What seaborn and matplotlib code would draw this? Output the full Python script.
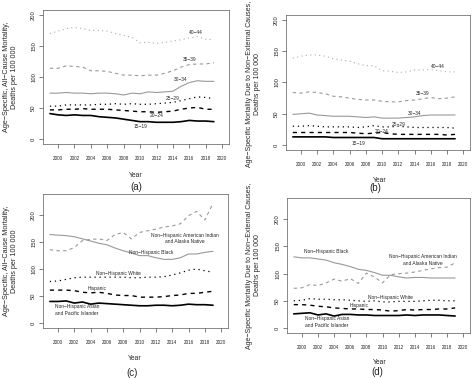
import numpy as np
import pandas as pd
import matplotlib
matplotlib.use("Agg")
import matplotlib.pyplot as plt
import seaborn as sns

sns.set_style("ticks")
plt.rcParams["font.family"] = ["Liberation Sans", "DejaVu Sans"]

years = list(range(1999, 2020))

# panel (a): all-cause mortality by age group
a_15_19 = [41, 39, 38, 39, 38, 38, 36, 35, 34, 32, 30, 28, 28, 27, 27, 27, 28, 30, 29, 29, 28]
a_20_24 = [47, 47, 48, 48, 49, 48, 48, 48, 47, 46, 45, 44, 44, 43, 44, 45, 48, 50, 51, 48, 48]
a_25_29 = [53, 53, 55, 55, 55, 55, 56, 56, 57, 56, 57, 56, 56, 57, 58, 59, 62, 65, 68, 67, 65]
a_30_34 = [74, 74, 75, 74, 74, 73, 74, 74, 73, 71, 74, 73, 76, 75, 76, 77, 85, 91, 94, 93, 93]
a_35_39 = [114, 114, 118, 117, 116, 110, 110, 109, 106, 103, 103, 102, 103, 103, 106, 110, 116, 120, 121, 121, 123]
a_40_44 = [170, 174, 178, 180, 178, 175, 175, 174, 170, 167, 164, 155, 156, 154, 156, 158, 160, 163, 165, 161, 160]

# panel (b): non-external causes by age group
b_15_19 = [13, 13, 13, 13, 13, 12, 12, 12, 12, 12, 12, 10, 10, 10, 10, 10, 10, 10, 10, 10, 10]
b_20_24 = [20, 20, 20, 20, 20, 20, 20, 20, 19, 18, 19, 20, 18, 17, 17, 17, 17, 17, 17, 16, 17]
b_25_29 = [30, 30, 31, 30, 29, 29, 29, 29, 28, 29, 31, 29, 29, 30, 29, 28, 28, 28, 28, 28, 27]
b_30_34 = [49, 50, 51, 48, 47, 46, 46, 46, 45, 44, 45, 43, 43, 43, 44, 45, 47, 48, 48, 48, 48]
b_35_39 = [84, 83, 85, 84, 82, 78, 77, 75, 73, 72, 72, 70, 69, 69, 71, 72, 74, 76, 74, 75, 77]
b_40_44 = [139, 142, 144, 144, 142, 138, 136, 134, 130, 127, 127, 119, 118, 116, 117, 120, 120, 121, 119, 117, 117]

# panel (c): all-cause mortality by race/ethnicity
c_asian = [40, 40, 41, 37, 39, 35, 37, 36, 35, 34, 33, 32, 32, 33, 33, 32, 33, 35, 34, 34, 33]
c_hisp = [61, 61, 61, 60, 57, 56, 57, 55, 52, 51, 51, 48, 48, 48, 49, 51, 52, 55, 55, 57, 59]
c_white = [77, 78, 81, 84, 85, 85, 85, 85, 85, 85, 84, 84, 85, 85, 86, 89, 93, 98, 100, 97, 94]
c_black = [164, 163, 162, 160, 156, 152, 148, 145, 139, 134, 130, 125, 125, 121, 118, 118, 121, 128, 128, 131, 133]
c_aian = [136, 134, 134, 140, 153, 155, 156, 153, 164, 168, 156, 168, 171, 174, 178, 180, 184, 199, 207, 191, 222]

# panel (d): non-external causes by race/ethnicity
d_asian = [26, 27, 28, 24, 26, 22, 25, 25, 24, 24, 23, 23, 23, 23, 24, 23, 24, 24, 24, 23, 22]
d_hisp = [43, 43, 42, 40, 39, 37, 36, 35, 35, 34, 34, 33, 31, 32, 34, 33, 34, 34, 35, 35, 37]
d_white = [50, 51, 54, 53, 53, 52, 52, 51, 50, 49, 50, 48, 48, 49, 49, 49, 50, 51, 51, 50, 50]
d_black = [131, 129, 129, 127, 125, 120, 117, 113, 108, 106, 102, 97, 97, 94, 92, 93, 93, 92, 92, 92, 92]
d_aian = [73, 74, 80, 78, 83, 90, 86, 91, 82, 101, 94, 83, 98, 100, 101, 103, 106, 109, 111, 112, 120]

MINUS = "\u2212"
age_labels = ["15" + MINUS + "19", "20" + MINUS + "24", "25" + MINUS + "29",
              "30" + MINUS + "34", "35" + MINUS + "39", "40" + MINUS + "44"]
race_labels = ["Non" + MINUS + "Hispanic Asian\nand Pacific Islander", "Hispanic",
               "Non" + MINUS + "Hispanic White", "Non" + MINUS + "Hispanic Black",
               "Non" + MINUS + "Hispanic American Indian\nand Alaska Native"]

# (color, linestyle, linewidth)
DOT = (0, (1, 3))
DASH = (0, (3, 3))
age_styles = [("black", "-", 1.2), ("black", DASH, 1.0), ("black", DOT, 0.9),
              ("0.6", "-", 0.8), ("0.6", DASH, 0.8), ("0.68", DOT, 0.8)]
race_styles = [("black", "-", 1.2), ("black", DASH, 1.0), ("black", DOT, 0.9),
               ("0.6", "-", 0.8), ("0.6", DASH, 0.8)]

W, H = 474, 378
fig = plt.figure(figsize=(W / 100, H / 100), dpi=100)


def px_axes(l, t, r, b):
    return fig.add_axes([l / W, 1 - b / H, (r - l) / W, (b - t) / H])


def style_axes(ax, ylim):
    ax.set_xlim(1998.16, 2020.84)
    ax.set_ylim(*ylim)
    ax.set_xticks(range(2000, 2021, 2))
    ax.set_yticks([0, 50, 100, 150, 200])
    ax.tick_params(axis="x", labelsize=3.3, length=3, width=0.5, pad=5.5, color="0.3")
    ax.tick_params(axis="y", labelsize=4.2, length=3, width=0.5, pad=2.0, color="0.3",
                   labelrotation=90)
    for lab in ax.get_yticklabels():
        lab.set_verticalalignment("center")
    for sp in ax.spines.values():
        sp.set_visible(True)
        sp.set_linewidth(0.5)
        sp.set_color("0.35")
    ax.set_xlabel("")
    ax.set_ylabel("")


def draw(ax, series, styles):
    for vals, (c, ls, lw) in zip(series, styles):
        df = pd.DataFrame({"year": years, "rate": vals})
        sns.lineplot(data=df, x="year", y="rate", ax=ax, color=c, linestyle=ls,
                     linewidth=lw)


ax_a = px_axes(43, 10, 229, 144)
draw(ax_a, [a_15_19, a_20_24, a_25_29, a_30_34, a_35_39, a_40_44], age_styles)
style_axes(ax_a, (-8, 208))
for lab, (x, y) in zip(age_labels, [(2010, 20), (2012, 37.5), (2014, 65),
                                     (2015, 96), (2016, 129), (2016.8, 171)]):
    ax_a.text(x, y, lab, fontsize=3.5, ha="center", va="center")

ax_b = px_axes(286, 15, 470, 150)
draw(ax_b, [b_15_19, b_20_24, b_25_29, b_30_34, b_35_39, b_40_44], age_styles)
style_axes(ax_b, (-8, 208))
for lab, (x, y) in zip(age_labels, [(2007.1, 3), (2010, 21), (2012, 33),
                                     (2014, 50), (2015, 83), (2016.9, 125)]):
    ax_b.text(x, y, lab, fontsize=3.5, ha="center", va="center")

ax_c = px_axes(43, 194, 228, 328)
draw(ax_c, [c_asian, c_hisp, c_white, c_black, c_aian], race_styles)
style_axes(ax_c, (-9.2, 239.2))
for lab, (x, y) in zip(race_labels, [(2002.3, 24), (2004.8, 64), (2007.4, 92),
                                      (2011.4, 131), (2015.5, 157)]):
    ax_c.text(x, y, lab, fontsize=3.5, ha="center", va="center", linespacing=1.3)

ax_d = px_axes(287, 198, 470, 333)
draw(ax_d, [d_asian, d_hisp, d_white, d_black, d_aian], race_styles)
style_axes(ax_d, (-9.2, 239.2))
for lab, (x, y) in zip(race_labels, [(2003.1, 11), (2007.1, 40.5), (2011, 57),
                                      (2003, 141), (2015, 125)]):
    ax_d.text(x, y, lab, fontsize=3.5, ha="center", va="center", linespacing=1.3)

lab_all = "Age" + MINUS + "Specific, All" + MINUS + "Cause Mortality,\nDeaths per 100 000"
lab_ne = ("Age" + MINUS + "Specific Mortality Due to Non" + MINUS + "External Causes,\n"
          "Deaths per 100 000")


def ftext(x, y, s, **kw):
    fig.text(x / W, 1 - y / H, s, ha="center", va="center", **kw)


ftext(10.5, 77, lab_all, rotation=90, fontsize=5.2, linespacing=1.2)
ftext(253.5, 84, lab_ne, rotation=90, fontsize=5.0, linespacing=1.25)
ftext(10.5, 261, lab_all, rotation=90, fontsize=5.2, linespacing=1.2)
ftext(253.5, 265.5, lab_ne, rotation=90, fontsize=5.0, linespacing=1.25)

ftext(136, 175, "Year", fontsize=4.9)
ftext(380, 181, "Year", fontsize=4.9)
ftext(135, 359, "Year", fontsize=4.9)
ftext(380, 363, "Year", fontsize=4.9)

ftext(136, 187, "(a)", fontsize=7)
ftext(375, 188, "(b)", fontsize=7)
ftext(132, 373, "(c)", fontsize=7)
ftext(377, 372, "(d)", fontsize=7)

fig.savefig("out.png", dpi=100)
